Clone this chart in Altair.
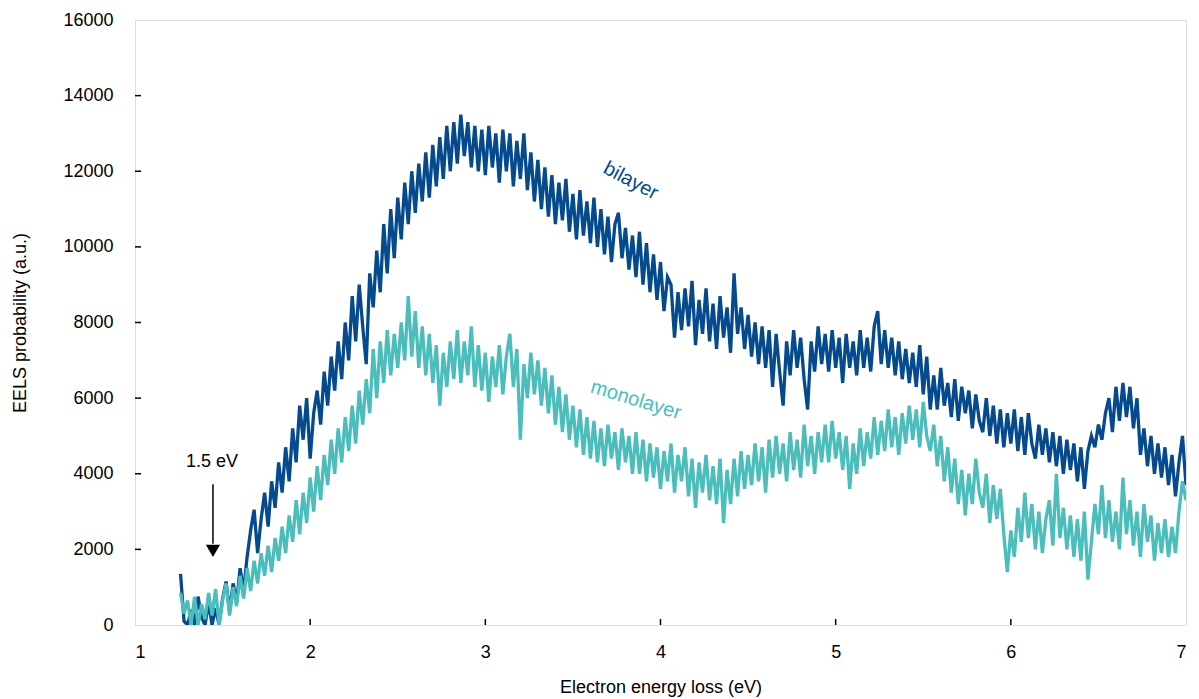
import altair as alt
import pandas as pd

# Energy grid (eV): 1.26 to 7.00 in 0.02 eV steps
E0 = 1.26
DE = 0.02

bilayer = [
    1350, 100, 0, 400, 0,
    750, 200, 0, 600, 0,
    450, 0, 700, 1150, 350,
    1100, 600, 1500, 900, 1800,
    2500, 3050, 1900, 2800, 3500,
    2600, 3800, 3100, 4300, 3500,
    4700, 3800, 5200, 4300, 5800,
    4900, 6000, 4400, 5600, 6200,
    5300, 6700, 5800, 7100, 6200,
    7500, 6500, 8000, 7000, 8700,
    7500, 9000, 7900, 6900, 9300,
    8400, 9900, 8800, 10600, 9300,
    11000, 9700, 11300, 10200, 11700,
    10600, 12000, 10900, 12200, 11200,
    12500, 11300, 12700, 11600, 12900,
    11800, 13200, 12000, 13300, 12200,
    13500, 12400, 13300, 12100, 13200,
    12000, 13100, 11900, 13200, 12100,
    13000, 11700, 13100, 12000, 13000,
    11600, 12800, 11800, 13000, 11500,
    12500, 11200, 12300, 11000, 12100,
    10800, 11900, 10600, 11700, 10700,
    11800, 10400, 11400, 10200, 11500,
    10300, 11200, 10100, 11300, 10000,
    11000, 9800, 10800, 9600, 10600,
    10900, 9700, 10500, 9400, 10300,
    9200, 10400, 9000, 10100, 8800,
    9800, 8600, 9600, 8300, 9200,
    9000, 7600, 8800, 7800, 8900,
    7900, 9100, 7400, 8600, 7700,
    8900, 7500, 8500, 7300, 8700,
    7600, 8400, 7200, 9300, 7700,
    8400, 7300, 8200, 7100, 8000,
    6900, 7900, 6800, 7800, 6300,
    7700, 6700, 5800, 7500, 6600,
    7800, 6800, 7600, 6500, 5700,
    7500, 6700, 7900, 6900, 7700,
    6700, 7800, 6800, 7600, 6400,
    7700, 6800, 7500, 6600, 7800,
    6800, 7600, 6700, 7900, 8300,
    6900, 7800, 6800, 7600, 6600,
    7500, 6500, 7300, 6400, 7200,
    6300, 7400, 6100, 7100, 5700,
    6600, 5700, 6800, 5800, 6400,
    5500, 6500, 5400, 6300, 5600,
    6200, 5200, 6100, 5400, 5100,
    6000, 5000, 5800, 4800, 5700,
    4700, 5600, 4800, 5700, 4600,
    5500, 4500, 5600, 4800, 4400,
    5300, 4500, 5200, 4300, 5100,
    4200, 5000, 4000, 4900, 4100,
    4800, 3800, 4700, 3600, 4600,
    5000, 4700, 5300, 4900, 5600,
    6000, 5100, 6300, 5400, 6400,
    5500, 6300, 5200, 6000, 4500,
    5200, 4200, 5000, 4000, 4800,
    3900, 4700, 3700, 4500, 3400,
    4300, 5000, 3700,
]

monolayer = [
    850, 300, 650, 0, 750,
    0, 550, 150, 850, 250,
    950, 0, 650, 1100, 250,
    1000, 500, 1300, 700, 1500,
    900, 1700, 1100, 1900, 1300,
    2100, 1400, 2300, 1700, 2600,
    1900, 2900, 2200, 3300, 2400,
    3500, 2700, 3900, 3000, 4200,
    3300, 4500, 3700, 4900, 4000,
    5200, 4300, 5500, 4600, 5800,
    4800, 6200, 5300, 6500, 5600,
    7300, 6000, 7500, 6400, 7800,
    6600, 7700, 6800, 8000, 7000,
    8700, 7100, 8300, 6800, 7900,
    6600, 7700, 6400, 7400, 5800,
    7200, 6300, 7500, 6500, 7800,
    6400, 7500, 6600, 7900, 6300,
    7400, 6200, 7200, 5900, 7100,
    6300, 7400, 6100, 7100, 7700,
    6300, 7300, 4900, 6900, 6000,
    7200, 6100, 7000, 5800, 6800,
    5600, 6600, 5300, 6300, 5100,
    6100, 4900, 5800, 4700, 5700,
    4500, 5500, 4400, 5400, 4300,
    5200, 4200, 5300, 4400, 5100,
    4100, 5200, 4300, 5000, 4000,
    5100, 4000, 4900, 3800, 4800,
    3900, 4700, 3600, 4600, 3800,
    4800, 3500, 4500, 3800, 4700,
    3400, 4400, 3100, 4300, 3500,
    4500, 3300, 4200, 3200, 4400,
    2700, 4100, 3200, 4400, 3400,
    4600, 3600, 4500, 3700, 4800,
    3800, 4700, 3500, 4900, 3900,
    5000, 4000, 4800, 3800, 5100,
    4100, 4900, 3900, 5300, 4200,
    5000, 4000, 5100, 4300, 5300,
    4300, 5400, 4400, 5100, 4100,
    5000, 3600, 4800, 4000, 5200,
    4200, 5100, 4400, 5500, 4500,
    5400, 4600, 5700, 4700, 5500,
    4500, 5600, 4800, 5800, 4900,
    5700, 4700, 5900, 5000, 4600,
    5300, 4200, 5000, 3800, 4700,
    3500, 4400, 3200, 4100, 2900,
    4000, 3200, 4400, 3500, 3100,
    4000, 2700, 3700, 2800, 3600,
    2400, 1400, 2500, 1800, 3100,
    2200, 3500, 2300, 3200, 2000,
    3000, 1900, 2800, 3300, 2100,
    4000, 2300, 3100, 2000, 2900,
    1800, 2800, 1700, 3000, 1200,
    2200, 3200, 2400, 3700, 2300,
    3300, 2200, 3000, 2000, 3900,
    2400, 3300, 2100, 3000, 1800,
    3200, 2200, 2900, 1700, 2700,
    1900, 2800, 1800, 2600, 1900,
    3000, 3800, 3300,
]

x_ticks = [1, 2, 3, 4, 5, 6, 7]
y_ticks = [0, 2000, 4000, 6000, 8000, 10000, 12000, 14000, 16000]
inner_x_ticks = [2, 3, 4, 5, 6]
inner_y_ticks = [2000, 4000, 6000, 8000, 10000, 12000, 14000]

BLUE = "#064A8E"
TEAL = "#4BBEBC"
FONT = "Liberation Sans"

energy = [round(E0 + DE * i, 2) for i in range(len(bilayer))]
df_b = pd.DataFrame({"energy": energy, "value": bilayer})
df_m = pd.DataFrame({"energy": energy[: len(monolayer)], "value": monolayer})

xscale = alt.Scale(domain=[1, 7], nice=False)
yscale = alt.Scale(domain=[0, 16000], nice=False)

xaxis = alt.Axis(values=x_ticks, format="d", title="Electron energy loss (eV)",
                 grid=False, ticks=False, domain=False, labelPadding=18,
                 labelFontSize=18, titleFontSize=18, titlePadding=17,
                 labelFont=FONT, titleFont=FONT, labelColor="#000000",
                 titleColor="#000000", titleFontWeight="normal")
yaxis = alt.Axis(values=y_ticks, format="d", title="EELS probability (a.u.)",
                 grid=False, ticks=False, domain=False, labelPadding=22,
                 labelFontSize=18, titleFontSize=18, titlePadding=33,
                 labelFont=FONT, titleFont=FONT, labelColor="#000000",
                 titleColor="#000000", titleFontWeight="normal")

base_b = alt.Chart(df_b).mark_line(color=BLUE, strokeWidth=3.3, clip=True).encode(
    x=alt.X("energy:Q", scale=xscale, axis=xaxis),
    y=alt.Y("value:Q", scale=yscale, axis=yaxis),
)
line_m = alt.Chart(df_m).mark_line(color=TEAL, strokeWidth=3.3, clip=True).encode(
    x=alt.X("energy:Q", scale=xscale),
    y=alt.Y("value:Q", scale=yscale),
)

ytick_df = pd.DataFrame({"v": inner_y_ticks})
xtick_df = pd.DataFrame({"v": inner_x_ticks})
yticks = alt.Chart(ytick_df).mark_rule(color="black", strokeWidth=1.5).encode(
    y=alt.Y("v:Q", scale=yscale), x=alt.value(0), x2=alt.value(6))
xticks = alt.Chart(xtick_df).mark_rule(color="black", strokeWidth=1.5).encode(
    x=alt.X("v:Q", scale=xscale), y=alt.value(605), y2=alt.value(599))

labels_df = pd.DataFrame({
    "x": [3.83, 3.86],
    "y": [11750, 5950],
    "t": ["bilayer", "monolayer"],
})
lbl_b = alt.Chart(labels_df.iloc[[0]]).mark_text(
    fontSize=20, font=FONT, color=BLUE, angle=28).encode(
    x=alt.X("x:Q", scale=xscale), y=alt.Y("y:Q", scale=yscale), text="t:N")
lbl_m = alt.Chart(labels_df.iloc[[1]]).mark_text(
    fontSize=20, font=FONT, color=TEAL, angle=17).encode(
    x=alt.X("x:Q", scale=xscale), y=alt.Y("y:Q", scale=yscale), text="t:N")

ann_df = pd.DataFrame({"x": [1.44], "y": [4310], "t": ["1.5 eV"]})
ann = alt.Chart(ann_df).mark_text(fontSize=18, font=FONT, color="black").encode(
    x=alt.X("x:Q", scale=xscale), y=alt.Y("y:Q", scale=yscale), text="t:N")

arrow_df = pd.DataFrame({"x": [1.445], "y1": [3720], "y2": [2150], "tip": [1960]})
arrow_line = alt.Chart(arrow_df).mark_rule(color="black", strokeWidth=1.5).encode(
    x=alt.X("x:Q", scale=xscale), y=alt.Y("y1:Q", scale=yscale), y2="y2:Q")
arrow_head = alt.Chart(arrow_df).mark_point(
    shape="triangle-down", filled=True, color="black", size=200, opacity=1).encode(
    x=alt.X("x:Q", scale=xscale), y=alt.Y("tip:Q", scale=yscale))

chart = alt.layer(
    base_b, line_m, yticks, xticks, lbl_b, lbl_m, ann, arrow_line, arrow_head
).properties(
    width=1051, height=605,
    autosize=alt.AutoSizeParams(type="none"),
    padding={"left": 135, "top": 20, "right": 13, "bottom": 74},
).configure_view(stroke="black", strokeWidth=2).configure(background="white")

chart.save("out.html", embed_options={"renderer": "svg", "actions": False})
